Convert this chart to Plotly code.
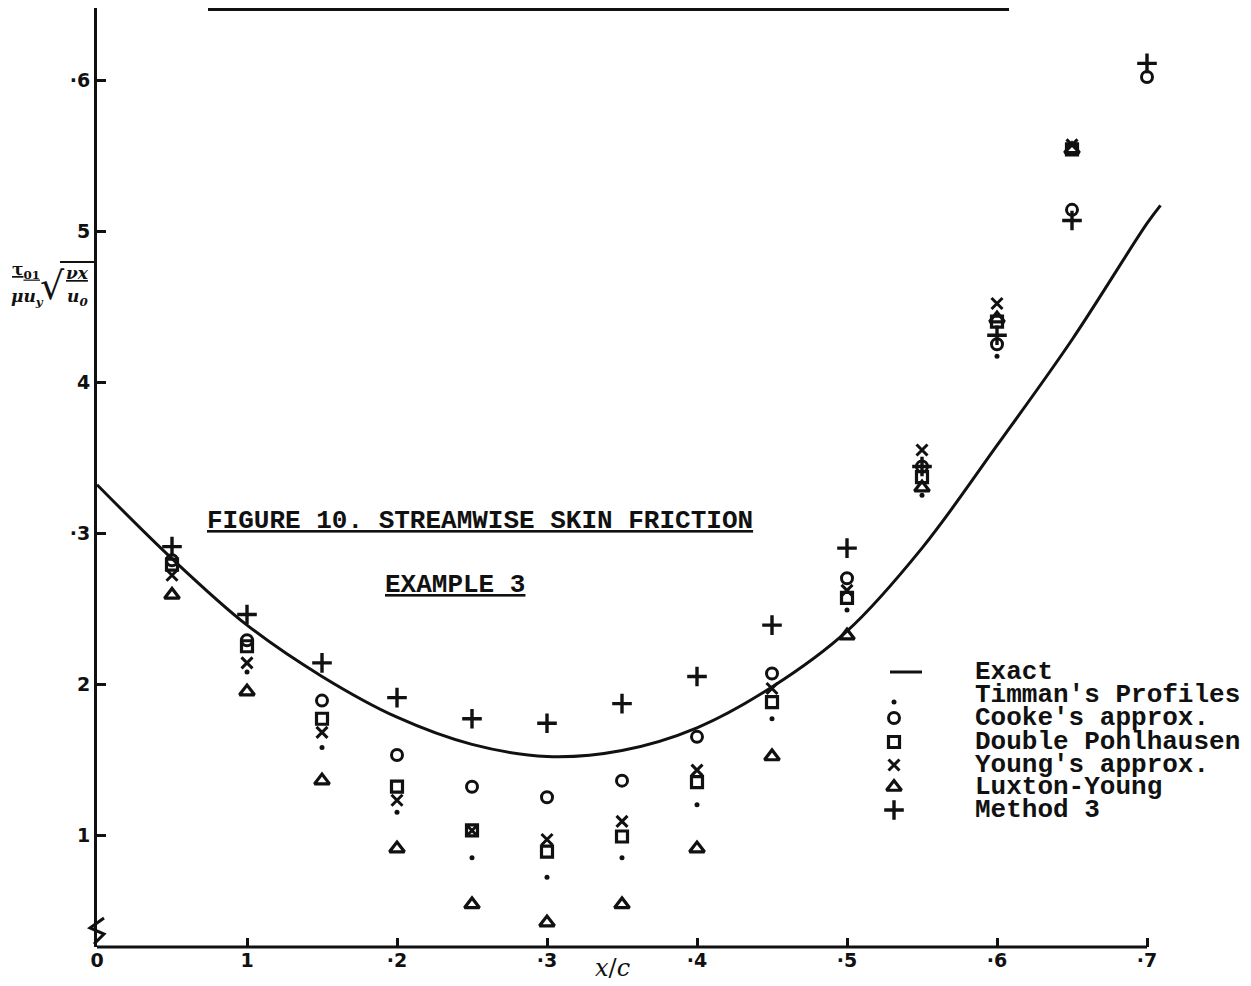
import plotly.graph_objects as go

# ---------------- data ----------------
x_pts = [0.05, 0.10, 0.15, 0.20, 0.25, 0.30, 0.35, 0.40, 0.45, 0.50, 0.55, 0.60, 0.65, 0.70]

exact_x = [0.0, 0.05, 0.10, 0.15, 0.20, 0.25, 0.30, 0.35, 0.40, 0.45, 0.50, 0.55, 0.60, 0.65, 0.70, 0.709]
exact_y = [0.332, 0.283, 0.239, 0.205, 0.178, 0.160, 0.152, 0.156, 0.171, 0.198, 0.235, 0.290, 0.358, 0.428, 0.505, 0.517]

timman   = [None, 0.208, 0.158, 0.115, 0.085, 0.072, 0.085, 0.120, 0.177, 0.249, 0.325, 0.417, None, None]
cooke    = [0.282, 0.229, 0.189, 0.153, 0.132, 0.125, 0.136, 0.165, 0.207, 0.270, 0.344, 0.425, 0.514, 0.602]
double_p = [0.279, 0.225, 0.177, 0.132, 0.103, 0.089, 0.099, 0.135, 0.188, 0.257, 0.337, 0.440, 0.554, None]
young    = [0.272, 0.214, 0.168, 0.123, 0.103, 0.097, 0.109, 0.143, 0.197, 0.262, 0.355, 0.452, 0.557, 0.652]
luxton   = [0.259, 0.195, 0.136, 0.091, 0.054, 0.042, 0.054, 0.091, 0.152, 0.232, 0.330, 0.442, 0.554, None]
method3  = [0.291, 0.246, 0.214, 0.191, 0.177, 0.174, 0.187, 0.205, 0.239, 0.290, 0.344, 0.431, 0.507, 0.611]

x_tickvals = [0, 0.1, 0.2, 0.3, 0.4, 0.5, 0.6, 0.7]
x_ticktext = ["0", "1", "·2", "·3", "·4", "·5", "·6", "·7"]
y_tickvals = [0.1, 0.2, 0.3, 0.4, 0.5, 0.6]
y_ticktext = ["1", "2", "·3", "4", "5", "·6"]

legend_names = ["Exact", "Timman's Profiles", "Cooke's approx.", "Double Pohlhausen",
                "Young's approx.", "Luxton-Young", "Method 3"]

# ---------------- layout constants ----------------
# the page body has an 8px margin, so figure pixel = reference pixel - 8
OFF = 8
W, H = 1251, 986
ML, MR, MT = 97 - OFF, 4, 0
MB = H - (947 - OFF)
PW, PH = W - ML - MR, H - MT - MB
X_RANGE = [0.0, PW / 1500.0]
Y_RANGE = [0.6 - 867 / 1510.0, 0.6 + (80 - OFF) / 1510.0]

def px(xr):
    return (xr - OFF - ML) / PW

def py(yr):
    return (MT + PH - (yr - OFF)) / PH

BLACK = "#111111"
MONO = "Liberation Mono, Courier New, monospace"
HAND = "DejaVu Sans, sans-serif"

fig = go.Figure()

# exact curve
fig.add_trace(go.Scatter(x=exact_x, y=exact_y, mode="lines",
                         line=dict(color=BLACK, width=3, shape="spline", smoothing=1.0),
                         showlegend=False, hoverinfo="skip"))

series = [
    (timman,   dict(symbol="circle", size=5, color=BLACK)),
    (cooke,    dict(symbol="circle-open", size=11, color=BLACK, line=dict(width=3, color=BLACK))),
    (double_p, dict(symbol="square-open", size=11, color=BLACK, line=dict(width=3.2, color=BLACK))),
    (young,    dict(symbol="x-thin", size=11, color=BLACK, line=dict(width=3, color=BLACK))),
    (luxton,   dict(symbol="triangle-up-open", size=13, color=BLACK, line=dict(width=3.2, color=BLACK))),
    (method3,  dict(symbol="cross-thin", size=14, color=BLACK, line=dict(width=3.4, color=BLACK))),
]
for vals, mk in series:
    fig.add_trace(go.Scatter(x=x_pts, y=vals, mode="markers", marker=mk,
                             showlegend=False, cliponaxis=False, hoverinfo="skip"))

# ---------------- hand-made legend (overlay axes in plot fractions) ----------------
leg_sym_x = px(894)
leg_rows = [672, 695, 718, 742, 765, 787, 810]
fig.add_trace(go.Scatter(x=[px(890), px(922)], y=[py(672), py(672)], mode="lines",
                         line=dict(color=BLACK, width=3), xaxis="x2", yaxis="y2",
                         showlegend=False, hoverinfo="skip"))
sym_rows = [702, 718, 742, 765, 787, 810]
for (vals, mk), r in zip(series, sym_rows):
    fig.add_trace(go.Scatter(x=[leg_sym_x], y=[py(r)], mode="markers", marker=mk,
                             xaxis="x2", yaxis="y2", showlegend=False, hoverinfo="skip"))

annotations = []
for name, r in zip(legend_names, leg_rows):
    annotations.append(dict(x=px(973), y=py(r), xref="paper", yref="paper", text=name,
                            showarrow=False, xanchor="left", yanchor="middle",
                            font=dict(family=MONO, size=26, color=BLACK, weight="bold")))

# titles
annotations.append(dict(x=px(205), y=py(521), xref="paper", yref="paper",
                        text="<u>FIGURE 10. STREAMWISE SKIN FRICTION</u>", showarrow=False,
                        xanchor="left", yanchor="middle",
                        font=dict(family=MONO, size=26, color=BLACK, weight="bold")))
annotations.append(dict(x=px(383), y=py(585), xref="paper", yref="paper",
                        text="<u>EXAMPLE 3</u>", showarrow=False,
                        xanchor="left", yanchor="middle",
                        font=dict(family=MONO, size=26, color=BLACK, weight="bold")))

# x axis title
annotations.append(dict(x=px(612), y=py(968), xref="paper", yref="paper",
                        text="<i>x</i>/<i>c</i>", showarrow=False,
                        xanchor="center", yanchor="middle",
                        font=dict(family="DejaVu Serif, serif", size=24, color=BLACK)))

# y axis title (hand-written style fraction)
lab_font = dict(family="DejaVu Serif, serif", size=17, color=BLACK, weight="bold")
annotations += [
    dict(x=px(26), y=py(270), xref="paper", yref="paper", text="<u>τ<sub>01</sub></u>",
         showarrow=False, xanchor="center", yanchor="middle", font=lab_font),
    dict(x=px(27), y=py(297), xref="paper", yref="paper", text="<i>μu<sub>y</sub></i>",
         showarrow=False, xanchor="center", yanchor="middle", font=lab_font),
    dict(x=px(52), y=py(286), xref="paper", yref="paper", text="√",
         showarrow=False, xanchor="center", yanchor="middle",
         font=dict(family="DejaVu Serif, serif", size=38, color=BLACK)),
    dict(x=px(77), y=py(273), xref="paper", yref="paper", text="<u><i>νx</i></u>",
         showarrow=False, xanchor="center", yanchor="middle", font=lab_font),
    dict(x=px(77), y=py(297), xref="paper", yref="paper", text="<i>u<sub>0</sub></i>",
         showarrow=False, xanchor="center", yanchor="middle", font=lab_font),
]

shapes = [
    # x axis line (ends at 0.7)
    dict(type="line", xref="paper", yref="paper", x0=0, x1=0.7 / X_RANGE[1], y0=0, y1=0,
         line=dict(color=BLACK, width=3)),
    # over-bar of square root in y label
    dict(type="line", xref="paper", yref="paper", x0=px(60), x1=px(95), y0=py(262), y1=py(262),
         line=dict(color=BLACK, width=2)),
    # clipped heading underline at the top
    dict(type="line", xref="paper", yref="paper", x0=px(208), x1=px(1009), y0=py(9.5), y1=py(9.5),
         line=dict(color=BLACK, width=3)),
    # axis break mark
    dict(type="path", xref="paper", yref="paper",
         path=f"M {px(104)},{py(918)} L {px(90)},{py(928)} L {px(104)},{py(934)} L {px(94)},{py(944)}",
         line=dict(color=BLACK, width=3)),
]

fig.update_layout(
    width=W, height=H,
    margin=dict(l=ML, r=MR, t=MT, b=MB),
    paper_bgcolor="white", plot_bgcolor="white",
    showlegend=False,
    xaxis=dict(range=X_RANGE, tickvals=x_tickvals, ticktext=x_ticktext,
               ticks="inside", ticklen=9, tickwidth=2.5, tickcolor=BLACK,
               showgrid=False, zeroline=False, showline=False,
               tickfont=dict(family=HAND, size=19, color=BLACK, weight="bold")),
    yaxis=dict(range=Y_RANGE, tickvals=y_tickvals, ticktext=y_ticktext,
               ticks="inside", ticklen=9, tickwidth=2.5, tickcolor=BLACK,
               showgrid=False, zeroline=False, showline=True, linewidth=3, linecolor=BLACK,
               tickfont=dict(family=HAND, size=19, color=BLACK, weight="bold")),
    xaxis2=dict(range=[0, 1], overlaying="x", visible=False, domain=[0, 1]),
    yaxis2=dict(range=[0, 1], overlaying="y", visible=False, anchor="x2"),
    annotations=annotations,
    shapes=shapes,
)

fig.write_html("out.html")
